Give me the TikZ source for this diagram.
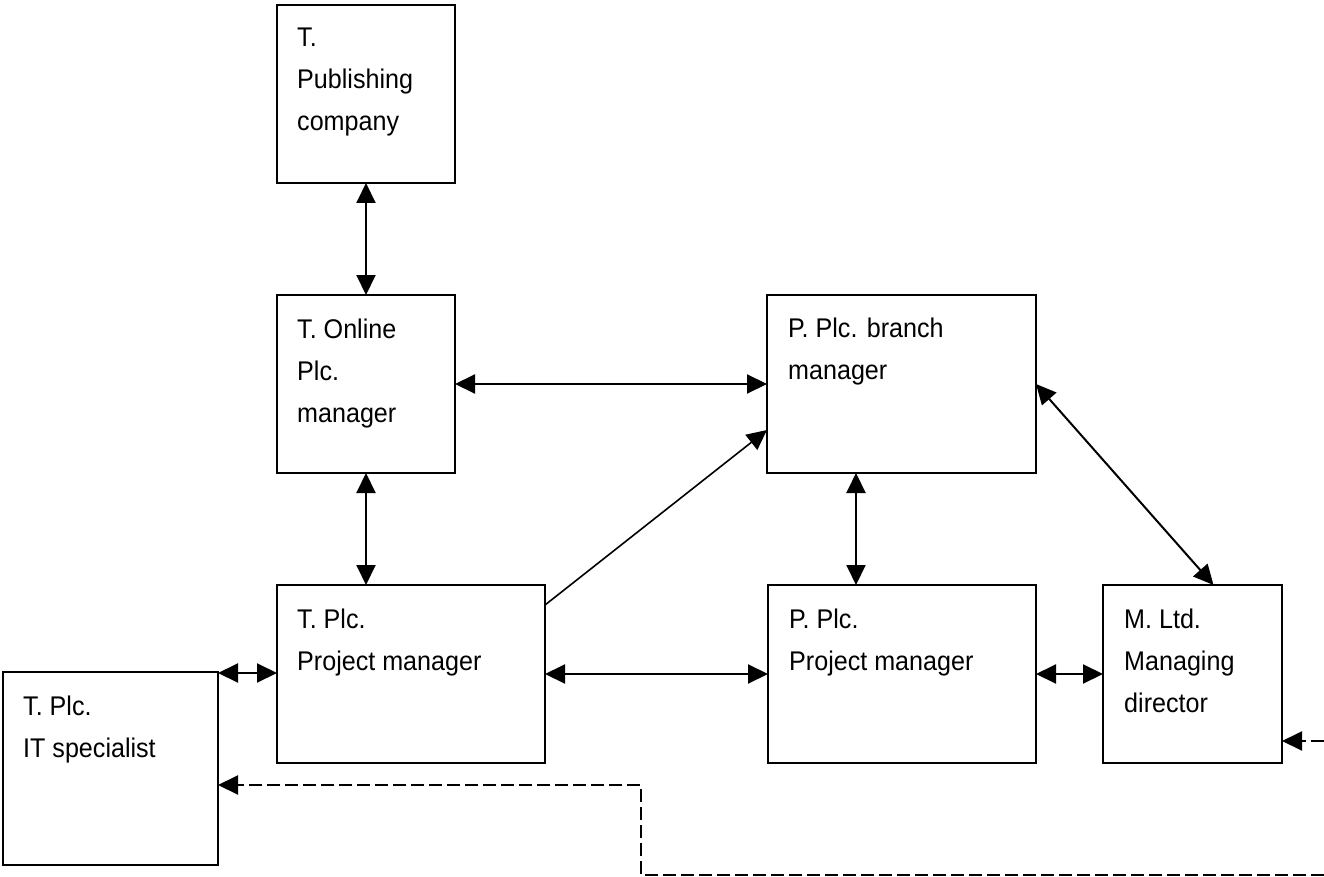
\documentclass[tikz,border=0pt]{standalone}
\usepackage{fontspec}
\setmainfont[FakeStretch=0.93]{Liberation Sans}
\usetikzlibrary{arrows.meta,calc}
\begin{document}
\begin{tikzpicture}[x=1pt,y=-1pt,
  box/.style={draw,line width=2pt,inner sep=0pt,outer sep=0pt},
  lbl/.style={anchor=base west,inner sep=0pt,font=\fontsize{27}{42}\selectfont},
  link/.style={line width=2pt,{Triangle[length=20pt,width=19pt]}-{Triangle[length=20pt,width=19pt]}},
  oneway/.style={line width=1.6pt,-{Triangle[length=20pt,width=19pt]}},
  dashlink/.style={line width=2pt,dash pattern=on 13pt off 5pt,-{Triangle[length=20pt,width=19pt]}}]
\useasboundingbox (0,0) rectangle (1324,877);

% boxes
\node[box,minimum width=178,minimum height=178] (pub) at (366,94) {};
\node[box,minimum width=178,minimum height=178] (online) at (366,384) {};
\node[box,minimum width=269,minimum height=178] (branch) at (901.5,384) {};
\node[box,minimum width=268,minimum height=178] (tpm) at (411,674) {};
\node[box,minimum width=268,minimum height=178] (ppm) at (902,674) {};
\node[box,minimum width=179,minimum height=178] (mltd) at (1192.5,674) {};
\node[box,minimum width=215,minimum height=193] (it) at (110.5,768.5) {};

% labels
\newcommand{\lines}[1]{\vtop{#1}}
\node[lbl] (pubt) at ([xshift=20,yshift=-42]pub.north west) {\lines{\hbox{T.}\hbox{Publishing}\hbox{company}}};
\node[lbl] (onlinet) at ([xshift=20,yshift=-43]online.north west) {\lines{\hbox{T. Online}\hbox{Plc.}\hbox{manager}}};
\node[lbl] (brancht) at ([xshift=21,yshift=-42]branch.north west) {\lines{\hbox{P. Plc. branch}\hbox{manager}}};
\node[lbl] (tpmt) at ([xshift=20,yshift=-43]tpm.north west) {\lines{\hbox{T. Plc.}\hbox{Project manager}}};
\node[lbl] (ppmt) at ([xshift=21,yshift=-43]ppm.north west) {\lines{\hbox{P. Plc.}\hbox{Project manager}}};
\node[lbl] (mltdt) at ([xshift=21,yshift=-43]mltd.north west) {\lines{\hbox{M. Ltd.}\hbox{Managing}\hbox{director}}};
\node[lbl] (itt) at ([xshift=20,yshift=-43]it.north west) {\lines{\hbox{T. Plc.}\hbox{IT specialist}}};

% connectors
\coordinate (itTop) at ([yshift=-1]it.north east);
\coordinate (itLow) at ([yshift=-16.5]it.east);
\coordinate (midX) at (856,0);
\draw[link] (pub.south) -- (online.north);
\draw[link] (online.east) -- (branch.west |- online.east);
\draw[link] (online.south) -- (online.south |- tpm.north);
\draw[oneway] ([yshift=-20]tpm.north east) -- ([yshift=43]branch.south west);
\draw[link] (midX |- branch.south) -- (midX |- ppm.north);
\draw[link] (branch.east) -- ([xshift=21]mltd.north);
\draw[link] (itTop) -- (tpm.west |- itTop);
\draw[link] (tpm.east) -- (ppm.west);
\draw[link] (ppm.east) -- (mltd.west);

% dashed links entering from the right
\coordinate (inA) at (1324,741);
\coordinate (inB) at (1324,875);
\coordinate (bendB) at (641,875);
\draw[dashlink] (inA) -- (mltd.east |- inA);
\draw[dashlink] (inB) -- (bendB) -- (bendB |- itLow) -- (itLow);
\end{tikzpicture}
\end{document}
